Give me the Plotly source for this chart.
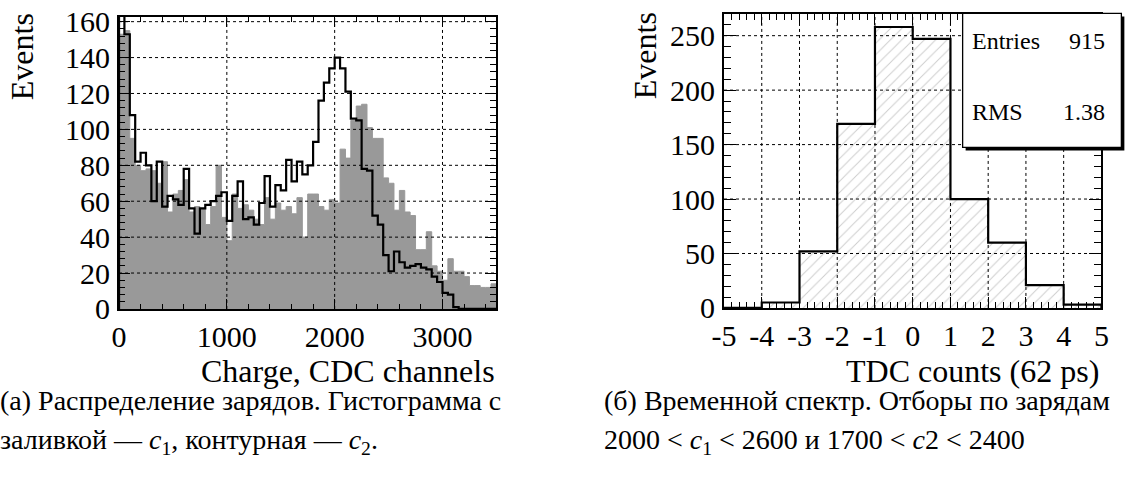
import numpy as np
import plotly.graph_objects as go

W, H = 1135, 478

# ---------------- Charge spectra: 50-channel bins from 0 to 3500 ----------------
charge_bin = 50
charge_c1 = [153, 155, 95, 80, 77, 78, 77, 70, 82, 54,
             64, 66, 72, 54, 57, 56, 47, 57, 80, 51,
             38, 64, 56, 58, 55, 50, 47, 62, 50, 59,
             55, 57, 53, 62, 40, 64, 64, 57, 55, 61,
             59, 89, 84, 105, 113, 114, 101, 95, 95, 73,
             70, 55, 66, 54, 52, 33, 33, 43, 24, 21,
             16, 28, 21, 21, 18, 13, 13, 12, 12, 14]
charge_c2 = [166, 153, 108, 82, 87, 80, 60, 82, 57, 63,
             61, 58, 78, 56, 42, 56, 58, 60, 63, 65,
             49, 63, 71, 50, 51, 47, 59, 74, 57, 69,
             66, 83, 71, 82, 75, 80, 93, 116, 126, 134,
             140, 134, 121, 106, 105, 78, 77, 52, 47, 30,
             21, 32, 26, 23, 24, 25, 23, 22, 18, 15,
             9, 8, 1, 0, 0, 0, 0, 0, 0, 0]
charge_xticks = [0, 1000, 2000, 3000]
charge_yticks = [0, 20, 40, 60, 80, 100, 120, 140, 160]

# ---------------- TDC spectrum: unit bins from -5 to 5 ----------------
tdc_first_edge = -5
tdc_counts = [0, 5, 52, 169, 258, 247, 100, 60, 21, 3]
tdc_rms = "1.38"
tdc_xticks = list(range(-5, 6))
tdc_yticks = [0, 50, 100, 150, 200, 250]

SERIF = "Liberation Serif, Times New Roman, Times, serif"

# Positions below are screen pixels; the displayed page is inset and slightly
# scaled relative to the figure, so they are mapped back through that first.
SCALE_X, INSET_X = 0.984, 10.8
SCALE_Y, INSET_Y = 0.936, 13.1


def fig_px_x(p):
    return (p - INSET_X) / SCALE_X


def fig_px_y(p):
    return (p - INSET_Y) / SCALE_Y


def px_x(p):
    return fig_px_x(p) / W


def px_y(p):
    return 1 - fig_px_y(p) / H


def step_outline(edges, counts):
    """Histogram outline as an hv step path closed down to zero at both ends."""
    xs = [edges[0]] + list(edges) + [edges[-1]]
    ys = [0] + list(counts) + [counts[-1], 0]
    return xs, ys


charge_edges = np.arange(len(charge_c1) + 1) * charge_bin
tdc_edges = np.arange(len(tdc_counts) + 1) + tdc_first_edge

fig = go.Figure()

x1, y1 = step_outline(charge_edges, charge_c1)
fig.add_trace(go.Scatter(x=x1, y=y1, mode="lines", line=dict(shape="hv", color="#999999", width=1),
                         fill="tozeroy", fillcolor="#999999", xaxis="x", yaxis="y", hoverinfo="skip"))
x2, y2 = step_outline(charge_edges, charge_c2)
fig.add_trace(go.Scatter(x=x2, y=y2, mode="lines", line=dict(shape="hv", color="black", width=2.2),
                         xaxis="x", yaxis="y", hoverinfo="skip"))

x3, y3 = step_outline(tdc_edges, tdc_counts)
fig.add_trace(go.Scatter(x=x3, y=y3, mode="lines", line=dict(shape="hv", color="black", width=2.2),
                         fill="tozeroy", fillcolor="rgba(0,0,0,0)",
                         fillpattern=dict(shape="/", size=8, solidity=0.12, fgcolor="#9a9a9a",
                                          bgcolor="rgba(255,255,255,0)"),
                         xaxis="x2", yaxis="y2", hoverinfo="skip"))


def axis(domain, rng, tickvals, ticktext, minor_dtick, major_len, minor_len, standoff, anchor):
    return dict(domain=domain, range=rng, anchor=anchor, tickvals=tickvals, ticktext=ticktext,
                ticks="inside", ticklen=major_len, tickwidth=1.2, tickcolor="black",
                minor=dict(dtick=minor_dtick, ticks="inside", ticklen=minor_len, tickwidth=1.2,
                           tickcolor="black", showgrid=False),
                showline=True, linewidth=2, linecolor="black", mirror="ticks",
                showgrid=False, zeroline=False, ticklabelstandoff=standoff,
                ticklabeloverflow="allow",
                tickfont=dict(family=SERIF, size=30, color="black"), layer="above traces")


# frames: left, right, top, bottom (screen pixels)
L = (118, 496, 17.8, 309)
R = (724, 1102, 15, 308)

fig.update_layout(
    width=W, height=H, margin=dict(l=0, r=0, t=0, b=0),
    paper_bgcolor="white", plot_bgcolor="white", showlegend=False,
    xaxis=axis([px_x(L[0]), px_x(L[1])], [0, 3500], charge_xticks, [str(v) for v in charge_xticks],
               200, 10, 5, 0, "y"),
    yaxis=axis([px_y(L[3]), px_y(L[2])], [0, 162.75], charge_yticks, [str(v) for v in charge_yticks],
               4, 11, 6, 1, "x"),
    xaxis2=axis([px_x(R[0]), px_x(R[1])], [-5, 5], tdc_xticks, [str(v) for v in tdc_xticks],
                0.2, 11, 6, 0, "y2"),
    yaxis2=axis([px_y(R[3]), px_y(R[2])], [0, 270], tdc_yticks, [str(v) for v in tdc_yticks],
                10, 12, 7, 1, "x2"),
)

# dotted grid drawn over the histograms
grid = dict(color="black", width=1, dash="3px,3px")
shapes = []
for v in charge_xticks[1:]:
    shapes.append(dict(type="line", xref="x", yref="y domain", x0=v, x1=v, y0=0, y1=1, line=grid, layer="above"))
for v in charge_yticks[1:]:
    shapes.append(dict(type="line", xref="x domain", yref="y", x0=0, x1=1, y0=v, y1=v, line=grid, layer="above"))
for v in tdc_xticks[1:-1]:
    shapes.append(dict(type="line", xref="x2", yref="y2 domain", x0=v, x1=v, y0=0, y1=1, line=grid, layer="above"))
for v in tdc_yticks[1:]:
    shapes.append(dict(type="line", xref="x2 domain", yref="y2", x0=0, x1=1, y0=v, y1=v, line=grid, layer="above"))

# statistics box with drop shadow
bx0, bx1, by0, by1 = 963, 1122, 14.5, 148
shapes.append(dict(type="rect", xref="paper", yref="paper", x0=px_x(bx0 + 3), x1=px_x(bx1 + 3),
                   y0=px_y(by1 + 3), y1=px_y(by0 + 3), fillcolor="black", line=dict(width=0), layer="above"))
shapes.append(dict(type="rect", xref="paper", yref="paper", x0=px_x(bx0), x1=px_x(bx1),
                   y0=px_y(by1), y1=px_y(by0), fillcolor="white", line=dict(color="black", width=1.3),
                   layer="above"))
fig.update_layout(shapes=shapes)


def note(text, x, y, size, xanchor="left", angle=0):
    fig.add_annotation(text=text, x=px_x(x), y=px_y(y), xref="paper", yref="paper",
                       xanchor=xanchor, yanchor="middle", showarrow=False, textangle=angle,
                       font=dict(family=SERIF, size=size, color="black"))


note("Events", 21, 58, 32, "center", -90)
note("Events", 645, 57, 32, "center", -90)
note("Charge, CDC channels", 497, 371, 32, "right")
note("TDC counts (62 ps)", 1102, 371, 32, "right")

note("Entries", 970, 42, 24)
note(str(int(sum(tdc_counts))), 1108, 42, 24, "right")
note("RMS", 970, 113, 24)
note(tdc_rms, 1108, 113, 24, "right")

note("(а) Распределение зарядов. Гистограмма с", -3, 400, 28)
note("заливкой — <i>c</i><sub>1</sub>, контурная — <i>c</i><sub>2</sub>.", -3, 441, 28)
note("(б) Временной спектр. Отборы по зарядам", 602, 400, 28)
note("2000 &lt; <i>c</i><sub>1</sub> &lt; 2600 и 1700 &lt; <i>c</i>2 &lt; 2400", 602, 441, 28)

fig.write_html("out.html")
